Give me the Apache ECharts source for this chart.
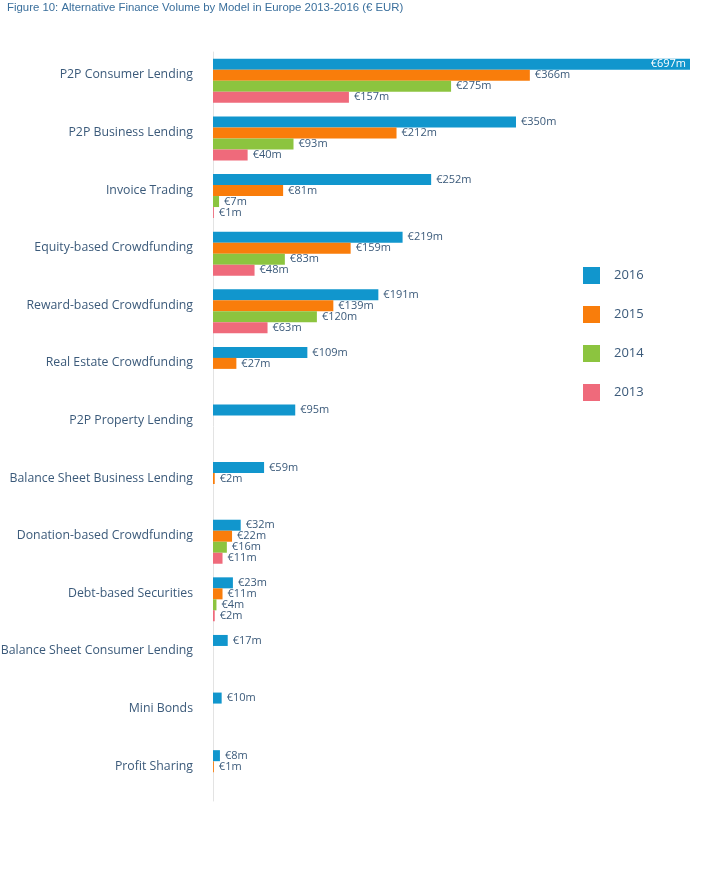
<!DOCTYPE html>
<html>
<head>
<meta charset="utf-8">
<script src="https://cdn.jsdelivr.net/npm/echarts@6/dist/echarts.min.js"></script>
<style>html,body{margin:0;padding:0;background:#fff;}#c{width:701px;height:871px;}</style>
</head>
<body>
<div id="c"></div>
<script>
const categories = ['P2P Consumer Lending','P2P Business Lending','Invoice Trading','Equity-based Crowdfunding','Reward-based Crowdfunding','Real Estate Crowdfunding','P2P Property Lending','Balance Sheet Business Lending','Donation-based Crowdfunding','Debt-based Securities','Balance Sheet Consumer Lending','Mini Bonds','Profit Sharing'];
const years = ['2016','2015','2014','2013'];
const v2016 = [697,350,252,219,191,109,95,59,32,23,17,10,8];
const v2015 = [366,212,81,159,139,27,null,2,22,11,null,null,1];
const v2014 = [275,93,7,83,120,null,null,null,16,4,null,null,null];
const v2013 = [157,40,1,48,63,null,null,null,11,2,null,null,null];
const colors = ['#1196cd','#f97d0b','#8cc43f','#ef6a7b'];

const axisMax = 551;
const textColor = '#3b5a7a';
const font = '"Open Sans", sans-serif';

function mkSeries(name, vals, color) {
  return {
    name: name,
    type: 'bar',
    clip: true,
    data: vals.map(v => {
      if (v == null) return null;
      if (v > axisMax) {
        return { value: v, label: { position: 'insideRight', color: '#fff', distance: 4 } };
      }
      return v;
    }),
    itemStyle: { color: color },
    barGap: '0%',
    barCategoryGap: '23.6%',
    label: {
      show: true,
      position: 'right',
      distance: 5,
      color: textColor,
      fontFamily: font,
      fontSize: 11,
      formatter: p => '€' + p.value + 'm'
    }
  };
}

const chart = echarts.init(document.getElementById('c'), null, { renderer: 'canvas' });
chart.setOption({
  backgroundColor: '#fff',
  animation: false,
  title: {
    text: 'Figure 10: Alternative Finance Volume by Model in Europe 2013-2016 (€ EUR)',
    left: 2, top: -3,
    textStyle: { fontFamily: '"Liberation Sans", Arial, sans-serif', fontSize: 11.4, fontWeight: 'normal', color: '#3a6f9c' }
  },
  legend: {
    orient: 'vertical',
    left: 583, top: 267,
    padding: 0,
    itemWidth: 17, itemHeight: 17, itemGap: 22,
    icon: 'rect',
    data: years,
    textStyle: { fontFamily: font, fontSize: 13, color: textColor, padding: [0,0,0,9] }
  },
  grid: { left: 213, right: 11, top: 52, bottom: 70, containLabel: false, outerBoundsMode: 'none' },
  xAxis: {
    type: 'value', min: 0, max: axisMax,
    show: false,
    splitLine: { show: false }
  },
  yAxis: {
    type: 'category',
    inverse: true,
    data: categories,
    axisLine: { show: true, lineStyle: { color: '#e3e3e3', width: 1 } },
    axisTick: { show: false },
    axisLabel: { margin: 20, color: textColor, fontFamily: font, fontSize: 12.3, verticalAlign: 'bottom', lineHeight: 12 }
  },
  series: [
    mkSeries(years[0], v2016, colors[0]),
    mkSeries(years[1], v2015, colors[1]),
    mkSeries(years[2], v2014, colors[2]),
    mkSeries(years[3], v2013, colors[3])
  ]
});
</script>
</body>
</html>
